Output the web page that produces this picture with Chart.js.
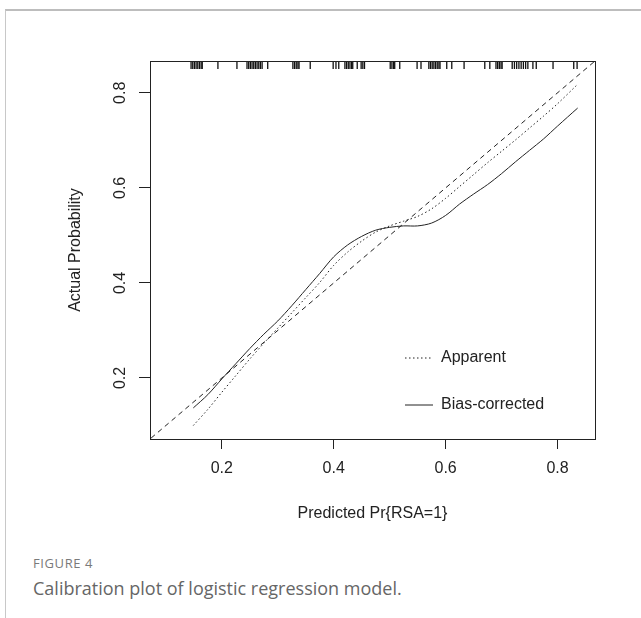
<!DOCTYPE html>
<html>
<head>
<meta charset="utf-8">
<script src="https://cdn.jsdelivr.net/npm/chart.js@4/dist/chart.umd.min.js"></script>
<style>
  html, body { margin: 0; padding: 0; background: #fff; width: 641px; height: 618px; overflow: hidden; }
  #frame { position: absolute; left: 5px; top: 9px; right: -2px; bottom: -2px;
           border-top: 2px solid #bdbdbd; border-left: 1px solid #c8c8c8; }
  #wrap { position: absolute; left: 0; top: 0; width: 641px; height: 540px; }
  #figlabel { position: absolute; left: 33px; top: 554px; font: 13px "Open Sans", sans-serif;
              color: #7a7a7a; letter-spacing: 0.6px; }
  #caption { position: absolute; left: 33px; top: 576px; font: 18px "Open Sans", sans-serif; color: #666; }
</style>
</head>
<body>
<div id="frame"></div>
<div id="wrap"><canvas id="calib"></canvas></div>
<div id="figlabel">FIGURE 4</div>
<div id="caption">Calibration plot of logistic regression model.</div>

<script>
// axis limits and ticks (same range on both axes, as in the R plot)
const axisMin = 0.0716;
const axisMax = 0.867;
const xTicks = [0.2, 0.4, 0.6, 0.8];
const yTicks = [0.2, 0.4, 0.6, 0.8];

// predicted probability grid shared by both calibration curves
const gridX = [0.149, 0.175, 0.2, 0.225, 0.25, 0.275, 0.3, 0.325, 0.35, 0.375, 0.4, 0.425, 0.45, 0.475,
               0.5, 0.525, 0.55, 0.575, 0.6, 0.625, 0.65, 0.675, 0.7, 0.725, 0.75, 0.775, 0.8, 0.836];
const apparentY = [0.100, 0.134, 0.170, 0.205, 0.240, 0.273, 0.305, 0.337, 0.369, 0.401, 0.437, 0.465, 0.488, 0.507,
                   0.520, 0.530, 0.540, 0.556, 0.578, 0.603, 0.628, 0.653, 0.677, 0.701, 0.726, 0.751, 0.777, 0.818];
const biasCorrectedY = [0.137, 0.165, 0.198, 0.230, 0.262, 0.292, 0.320, 0.352, 0.386, 0.420, 0.455, 0.480, 0.498, 0.511,
                        0.517, 0.520, 0.520, 0.526, 0.542, 0.566, 0.587, 0.607, 0.630, 0.655, 0.679, 0.703, 0.730, 0.768];

// ideal line y = x
const idealX = [0, 1];
const idealY = [0, 1];

// rug of predicted probabilities along the top
const rugX = [0.145, 0.148, 0.151, 0.154, 0.157, 0.160, 0.163, 0.165, 0.193, 0.227,
              0.245, 0.248, 0.251, 0.254, 0.257, 0.260, 0.263, 0.266, 0.269, 0.272, 0.282,
              0.327, 0.330, 0.333, 0.336, 0.338, 0.358, 0.399, 0.404, 0.409,
              0.420, 0.423, 0.426, 0.429, 0.432, 0.434, 0.442, 0.449, 0.452, 0.455,
              0.501, 0.504, 0.507, 0.509, 0.518, 0.549, 0.556,
              0.570, 0.573, 0.576, 0.579, 0.582, 0.585, 0.588, 0.590, 0.602, 0.611, 0.633,
              0.670, 0.679, 0.690, 0.693, 0.696, 0.699, 0.701,
              0.719, 0.723, 0.727, 0.731, 0.735, 0.739, 0.743, 0.747, 0.756, 0.762, 0.792, 0.829, 0.835];

const legendItems = ['Apparent', 'Bias-corrected'];

const INK = '#222';
const FONT = '"Liberation Sans", Arial, sans-serif';

const toPoints = (xs, ys) => xs.map((x, i) => ({ x, y: ys[i] }));

// box around the plot region (R's bty = "o")
const boxPlugin = {
  id: 'box',
  afterDraw(chart) {
    const { ctx, chartArea: a } = chart;
    ctx.save();
    ctx.strokeStyle = INK;
    ctx.lineWidth = 1;
    ctx.strokeRect(a.left + 0.5, a.top + 0.5, a.right - a.left, a.bottom - a.top);
    ctx.restore();
  }
};

// rug marks hanging from the top edge
const rugPlugin = {
  id: 'rug',
  afterDatasetsDraw(chart) {
    const { ctx, chartArea: a, scales: { x } } = chart;
    ctx.save();
    ctx.strokeStyle = '#111';
    ctx.lineWidth = 1.3;
    rugX.forEach(v => {
      const px = x.getPixelForValue(v);
      ctx.beginPath();
      ctx.moveTo(px, a.top);
      ctx.lineTo(px, a.top + 8);
      ctx.stroke();
    });
    ctx.restore();
  }
};

// legend inside the plot, lower right, no box
const legendPlugin = {
  id: 'insideLegend',
  afterDraw(chart) {
    const { ctx, chartArea: a } = chart;
    const styles = [chart.data.datasets[1], chart.data.datasets[2]];
    ctx.save();
    ctx.font = '16px ' + FONT;
    ctx.fillStyle = INK;
    ctx.textBaseline = 'middle';
    legendItems.forEach((label, i) => {
      const y = a.top + 297 + i * 47;
      const x0 = a.left + 255;
      ctx.strokeStyle = INK;
      ctx.lineWidth = 1;
      ctx.setLineDash(styles[i].borderDash || []);
      ctx.beginPath();
      ctx.moveTo(x0, y);
      ctx.lineTo(x0 + 28, y);
      ctx.stroke();
      ctx.setLineDash([]);
      ctx.fillText(label, x0 + 36, y);
    });
    ctx.restore();
  }
};

const lineStyle = { borderColor: INK, borderWidth: 1, pointRadius: 0, showLine: true, fill: false };

new Chart(document.getElementById('calib'), {
  type: 'scatter',
  data: {
    datasets: [
      { label: 'Ideal', data: toPoints(idealX, idealY), ...lineStyle, borderDash: [5, 4] },
      { label: 'Apparent', data: toPoints(gridX, apparentY), ...lineStyle, borderDash: [1.5, 2.5], tension: 0.3 },
      { label: 'Bias-corrected', data: toPoints(gridX, biasCorrectedY), ...lineStyle, tension: 0.3 }
    ]
  },
  options: {
    responsive: true,
    maintainAspectRatio: false,
    animation: false,
    layout: { padding: { top: 61, right: 46, left: 55, bottom: 11 } },
    plugins: { legend: { display: false }, tooltip: { enabled: false } },
    scales: {
      x: {
        type: 'linear',
        min: axisMin,
        max: axisMax,
        afterBuildTicks: s => { s.ticks = xTicks.map(v => ({ value: v })); },
        afterFit: s => { s.height = 90; },
        grid: { drawOnChartArea: false, drawTicks: true, tickLength: 10, color: INK, tickColor: INK },
        border: { display: true, color: INK },
        ticks: { color: INK, font: { family: FONT, size: 16 }, padding: 10, maxRotation: 0,
                 callback: v => v.toFixed(1) },
        title: { display: true, text: 'Predicted Pr{RSA=1}', color: INK,
                 font: { family: FONT, size: 16 }, padding: { top: 0, bottom: 6 } }
      },
      y: {
        type: 'linear',
        min: axisMin,
        max: axisMax,
        afterBuildTicks: s => { s.ticks = yTicks.map(v => ({ value: v })); },
        afterFit: s => { s.width = 95; },
        grid: { drawOnChartArea: false, drawTicks: true, tickLength: 11, color: INK, tickColor: INK },
        border: { display: true, color: INK },
        ticks: { color: INK, font: { family: FONT, size: 16 }, padding: 7, minRotation: 90, maxRotation: 90,
                 crossAlign: 'center', callback: v => v.toFixed(1) },
        title: { display: true, text: 'Actual Probability', color: INK,
                 font: { family: FONT, size: 16 }, padding: { top: 11, bottom: 0 } }
      }
    }
  },
  plugins: [boxPlugin, rugPlugin, legendPlugin]
});
</script>
</body>
</html>
